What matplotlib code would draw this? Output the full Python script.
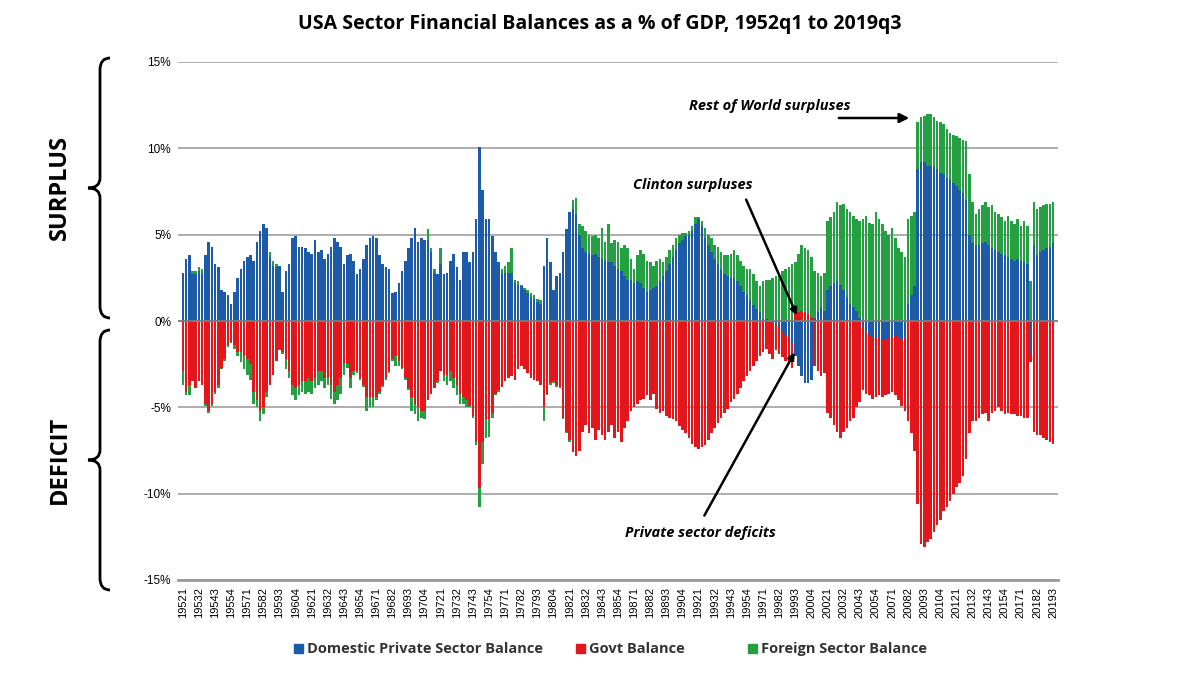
import numpy as np
import matplotlib
matplotlib.use("Agg")
import matplotlib.pyplot as plt
from matplotlib.path import Path
from matplotlib.patches import PathPatch, Rectangle

# Quarter labels 1952q1 .. 2019q3
quarters = [f"{y}{q}" for y in range(1952, 2020) for q in range(1, 5)][:271]

# Domestic private sector balance (% of GDP)
private_1 = [2.8,3.6,3.8,2.7,2.7,2.9,2.8,3.8,4.6,4.3, 3.3,3.1,1.8,1.7,1.5,1.0,1.7,2.5,3.0,3.5,
             3.7,3.8,3.5,4.6,5.2,5.6,5.4,3.7,3.2,3.1, 3.2,1.7,2.9,3.3,4.8,4.9,4.3,4.3,4.2,4.0,
             3.9,4.7,4.0,4.1,3.6,3.9,4.3,4.8,4.6,4.3, 3.3,3.8,3.9,3.5,2.7,3.0,3.6,4.4,4.8,4.9,
             4.8,3.8,3.3,3.1,3.0,1.6,1.7,2.2,2.9,3.5, 4.2,4.8,5.4,4.6,4.8,4.7,4.7,4.0,2.8,2.7,
             3.3,2.7,2.8,3.5,3.9,3.1,2.4,4.0,4.0]
private_2 = [3.4,4.0,5.9,10.1,7.6,5.9,5.9,4.9,4.0,3.4,
             2.8,2.8,2.8,2.8,2.2,2.1,2.0,1.8,1.6,1.4, 1.3,1.1,1.0,3.2,4.8,3.4,1.8,2.6,2.8,4.0,
             5.3,6.3,6.5,6.2,5.0,4.2,4.0,3.9,3.8,3.9, 3.7,3.6,3.5,3.4,3.4,3.2,3.0,2.9,2.6,2.4,
             2.4,2.2,2.3,2.2,1.9,1.7,1.8,1.9,2.0,2.3, 2.6,2.9,3.3,3.7,4.1,4.5,4.7,4.9,5.0,5.2,
             5.6,5.9,5.5,4.8,4.4,4.0,3.6,3.3,3.0,2.7, 2.6,2.5,2.5,2.3,2.0,1.7,1.5,1.2,0.9,0.7,
             0.5,0.1,0.1,0.0,-0.1]
private_3 = [-0.2,-0.4,-0.6,-0.8,-1.0,-1.3,-2.0,-2.6,-3.2,-3.6, -3.6,-3.4,0.2,0.5,0.8,0.6,
             1.8,2.0,2.2,2.3,2.1,1.8,1.4,1.0,0.8,0.6,0.2,
             -0.4,-0.6,-0.8,-0.9,-1.0,-1.0,-1.1,-1.1,-1.0,-0.9,-0.8,-0.9,-1.1,-1.0,
             1.0,1.5,2.0,8.8,
             9.2,9.2,9.0,9.0,8.9,8.8,8.6,8.5,8.3,8.2,8.0,7.8,7.6,7.4,
             7.0,5.0,4.5,
             4.4,4.4,4.5,4.6,4.4,4.2,4.1,4.0,3.9,3.8,3.7,3.6,3.5,3.6,3.5,3.4,3.3,
             -1.9,4.4,3.8,4.0,4.1,4.2,4.3,4.5]

# Government balance (% of GDP)
govt_1 = [-2.9,-4.1,-3.7,-3.5,-3.9,-3.5,-3.7,-4.8,-5.2,-4.8, -4.1,-3.7,-2.7,-2.2,-1.4,-1.2,-1.4,-1.8,-1.8,-2.0,
          -2.2,-2.5,-4.1,-4.6,-5.2,-5.0,-4.1,-3.7,-3.1,-2.3, -1.6,-1.8,-2.2,-2.9,-3.7,-3.9,-3.7,-3.5,-3.5,-3.3,
          -3.5,-3.3,-2.9,-2.9,-3.3,-3.3,-3.7,-4.1,-3.7,-3.3, -2.5,-2.5,-3.3,-2.9,-2.9,-3.3,-3.7,-4.4,-4.4,-4.4,
          -4.4,-4.1,-3.7,-3.3,-2.9,-2.2,-2.0,-2.3,-2.7,-3.3, -3.9,-4.4,-4.8,-5.0,-5.2,-5.2,-4.6,-4.2,-3.9,-3.5,
          -2.9,-3.1,-3.1,-2.9,-3.3,-3.7,-4.2,-4.4,-4.6]
govt_2 = [-4.9,-5.5,-7.0,-9.7,-7.0,-5.7,-5.7,-5.3,-4.2,-4.0,
          -3.8,-3.5,-3.3,-3.2,-3.4,-2.8,-2.6,-2.8,-3.0,-3.3, -3.4,-3.5,-3.7,-5.0,-4.2,-3.6,-3.5,-3.7,-3.8,-5.6,
          -6.4,-6.9,-7.6,-7.8,-7.5,-6.4,-6.0,-6.5,-6.2,-6.9, -6.3,-6.6,-6.9,-6.4,-6.0,-6.8,-6.4,-7.0,-6.2,-5.8,
          -5.2,-5.0,-4.8,-4.6,-4.5,-4.3,-4.6,-4.2,-5.1,-5.3, -5.2,-5.5,-5.6,-5.7,-5.8,-6.1,-6.3,-6.5,-6.8,-7.1,
          -7.3,-7.4,-7.3,-7.2,-6.9,-6.5,-6.2,-5.9,-5.6,-5.3, -5.1,-4.7,-4.5,-4.2,-3.9,-3.5,-3.2,-2.9,-2.6,-2.3,
          -2.0,-1.8,-1.6,-1.9,-2.1]
govt_3 = [-1.5,-1.5,-1.5,-1.5,-1.5,-1.4,0.4,0.5,0.6,0.5, 0.4,0.2,-2.6,-2.9,-3.2,-3.0,
          -5.3,-5.6,-6.0,-6.4,-6.8,-6.4,-6.2,-5.8,-5.6,-5.0,-4.7,
          -3.6,-3.6,-3.5,-3.6,-3.4,-3.3,-3.3,-3.2,-3.2,-3.2,-3.5,-3.7,-3.8,-4.2,
          -5.8,-6.5,-7.5,-10.6,
          -12.9,-13.1,-12.8,-12.6,-12.2,-11.8,-11.5,-11.0,-10.8,-10.4,-10.0,-9.6,-9.4,-9.0,
          -8.0,-6.5,-5.8,
          -5.8,-5.6,-5.4,-5.3,-5.8,-5.3,-5.2,-5.0,-5.2,-5.4,-5.3,-5.4,-5.4,-5.5,-5.5,-5.6,-5.6,
          -0.5,-6.4,-6.6,-6.6,-6.8,-6.9,-7.0,-7.1]

# Foreign sector balance (% of GDP)
foreign_1 = [-0.8,-0.2,-0.6,0.2,0.2,0.2,0.2,-0.1,-0.1,-0.1, -0.1,-0.2,-0.1,-0.1,-0.1,-0.1,-0.2,-0.2,-0.6,-0.8,
             -0.9,-0.9,-0.7,-0.4,-0.6,-0.4,-0.3,0.3,0.3,0.2, -0.1,-0.1,-0.6,-0.4,-0.6,-0.7,-0.6,-0.6,-0.7,-0.8,
             -0.7,-0.6,-0.8,-0.6,-0.6,-0.4,-0.8,-0.7,-0.9,-0.9, -0.6,-0.2,-0.6,-0.2,-0.1,-0.1,-0.1,-0.8,-0.6,-0.6,
             -0.2,-0.1,-0.1,-0.1,-0.1,-0.1,-0.6,-0.3,-0.1,-0.1, -0.1,-0.8,-0.6,-0.8,-0.4,-0.5,0.6,0.2,0.2,-0.1,
             0.9,-0.4,-0.6,-0.6,-0.6,-0.6,-0.6,-0.4,-0.4]
foreign_2 = [-0.1,-0.1,-0.2,-1.1,-1.3,-1.1,-1.0,-0.3,-0.1,-0.1,
             0.2,0.4,0.6,1.4,0.2,0.2,0.1,0.1,0.2,0.2, 0.2,0.2,0.2,-0.8,-0.1,-0.1,-0.1,-0.1,-0.1,-0.1,
             -0.1,-0.1,0.5,0.9,0.6,1.3,1.2,1.1,1.1,1.1, 1.1,1.8,1.1,2.2,1.1,1.5,1.6,1.3,1.8,1.8,
             1.2,0.8,1.5,1.9,2.0,1.8,1.6,1.3,1.5,1.3, 0.8,0.8,0.8,0.7,0.7,0.5,0.4,0.2,0.2,0.3,
             0.4,0.1,0.3,0.6,0.6,0.8,0.8,1.0,1.0,1.1, 1.2,1.4,1.6,1.5,1.5,1.5,1.5,1.8,1.8,1.6,
             1.5,2.2,2.3,2.4,2.5]
foreign_3 = [2.6,2.8,2.9,3.0,3.1,3.3,3.0,3.4,3.8,3.7, 3.7,3.5,2.7,2.3,1.8,2.2,
             4.0,4.0,4.1,4.6,4.6,5.0,5.1,5.3,5.3,5.3,5.6,
             5.9,6.1,5.7,5.6,6.3,5.9,5.6,5.2,5.0,5.4,4.8,4.2,4.0,3.7,
             4.9,4.6,4.3,2.7,
             2.6,2.7,3.0,3.0,2.9,2.8,2.9,2.9,2.8,2.7,2.8,2.9,3.0,3.1,
             3.4,3.5,2.4,
             1.8,2.1,2.2,2.3,2.2,2.5,2.2,2.2,2.1,2.0,2.4,2.2,2.1,2.3,2.0,2.4,2.2,
             2.3,2.5,2.7,2.6,2.6,2.6,2.5,2.4]

private = np.array(private_1 + private_2 + private_3)
govt = np.array(govt_1 + govt_2 + govt_3)
foreign = np.array(foreign_1 + foreign_2 + foreign_3)

C_BLUE = "#1d5aa8"
C_RED = "#e3161b"
C_GREEN = "#24a043"

fig = plt.figure(figsize=(12, 6.73), dpi=100)
ax = fig.add_axes([178/1200, 1-580/673, (1058-178)/1200, (580-62)/673])

for s in ["top", "right", "left"]:
    ax.spines[s].set_visible(False)
ax.spines["bottom"].set_position(("data", -15))
ax.spines["bottom"].set_color("#999999")
ax.spines["bottom"].set_linewidth(2)

x = np.arange(len(private))
pos_base = np.zeros(len(x))
neg_base = np.zeros(len(x))
for vals, col in [(private, C_BLUE), (govt, C_RED), (foreign, C_GREEN)]:
    p = np.where(vals > 0, vals, 0)
    n = np.where(vals < 0, vals, 0)
    ax.bar(x, p, bottom=pos_base, width=0.8, color=col, linewidth=0, zorder=3)
    ax.bar(x, n, bottom=neg_base, width=0.8, color=col, linewidth=0, zorder=3)
    pos_base += p
    neg_base += n

ax.set_xlim(-1.5, len(x) + 0.5)
ax.set_ylim(-15, 15)
ax.set_yticks([-15, -10, -5, 0, 5, 10, 15])
ax.set_yticklabels(["-15%", "-10%", "-5%", "0%", "5%", "10%", "15%"], fontsize=8.5,
                   fontfamily="Liberation Sans")
ax.yaxis.grid(True, color="#a0a0a0", linewidth=1.2, zorder=0)
ax.axhline(0, color="#808080", linewidth=1.2, zorder=4)
tick_pos = x[::5]
ax.set_xticks(tick_pos)
ax.set_xticklabels([quarters[i] for i in tick_pos], rotation=90, fontsize=8,
                   fontfamily="Liberation Sans")
ax.tick_params(length=0, pad=5)

# overlay in pixel coordinates
ov = fig.add_axes([0, 0, 1, 1], facecolor="none")
ov.set_xlim(0, 1200)
ov.set_ylim(673, 0)
ov.axis("off")

fig.text(0.5, 1-24/673, "USA Sector Financial Balances as a % of GDP, 1952q1 to 2019q3",
         ha="center", va="center", fontsize=14, fontweight="bold", fontfamily="Open Sans")

def brace(y0, y1, xr=110, xm=100, xt=88):
    ym = (y0 + y1) / 2
    verts = [(xr, y0), (xm, y0), (xm, y0 + 12),
             (xm, ym - 10),
             (xm, ym), (xt, ym),
             (xm, ym), (xm, ym + 10),
             (xm, y1 - 12),
             (xm, y1), (xr, y1)]
    codes = [Path.MOVETO, Path.CURVE3, Path.CURVE3, Path.LINETO,
             Path.CURVE3, Path.CURVE3, Path.CURVE3, Path.CURVE3,
             Path.LINETO, Path.CURVE3, Path.CURVE3]
    ov.add_patch(PathPatch(Path(verts, codes), fill=False, lw=2, color="black"))

brace(58, 318)
brace(330, 590)
ov.text(60, 188, "SURPLUS", rotation=90, ha="center", va="center", fontsize=17,
        fontweight="bold", fontfamily="Open Sans")
ov.text(60, 460, "DEFICIT", rotation=90, ha="center", va="center", fontsize=17,
        fontweight="bold", fontfamily="Open Sans")

ann = dict(fontsize=10.5, fontweight="bold", fontstyle="italic", fontfamily="Open Sans")
ov.text(770, 106, "Rest of World surpluses", ha="center", va="center", **ann)
ov.annotate("", xy=(912, 118), xytext=(836, 118),
            arrowprops=dict(arrowstyle="-|>", color="black", lw=1.8, mutation_scale=14))
ov.text(693, 185, "Clinton surpluses", ha="center", va="center", **ann)
ov.annotate("", xy=(798, 318), xytext=(745, 197),
            arrowprops=dict(arrowstyle="-|>", color="black", lw=1.8, mutation_scale=10))
ov.text(700, 533, "Private sector deficits", ha="center", va="center", **ann)
ov.annotate("", xy=(796, 350), xytext=(703, 518),
            arrowprops=dict(arrowstyle="-|>", color="black", lw=1.8, mutation_scale=10))

# legend
leg = [(298, "Domestic Private Sector Balance", C_BLUE),
       (580, "Govt Balance", C_RED),
       (752, "Foreign Sector Balance", C_GREEN)]
for lx, lab, col in leg:
    ov.add_patch(Rectangle((lx - 4, 644), 9, 9, color=col))
    ov.text(lx + 9, 649, lab, ha="left", va="center", fontsize=10.5,
            fontweight="bold", fontfamily="Open Sans", color="#333333")

fig.savefig("out.png", dpi=100)
